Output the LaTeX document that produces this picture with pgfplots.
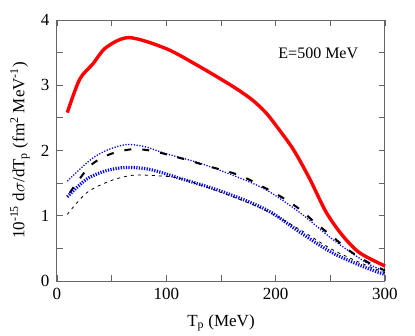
\documentclass[border=0pt]{standalone}
\usepackage{pgfplots}
\pgfplotsset{compat=1.18}
\usepackage{fontspec}
\setmainfont{Liberation Serif}

\begin{document}
\begin{tikzpicture}
\begin{axis}[
    scale only axis,
    width=328pt, height=261pt,
    xmin=0, xmax=300, ymin=0, ymax=4,
    xtick={0,100,200,300}, ytick={0,1,2,3,4},
    minor xtick={50,150,250}, minor ytick={0.5,1.5,2.5,3.5},
    tick align=inside, ticks=both,
    major tick length=6pt, minor tick length=6pt,
    axis line style={draw=gray!80!black, line width=1pt},
    every tick/.style={gray!80!black, line width=0.8pt},
    tick label style={font=\rmfamily\fontsize{17}{20}\selectfont},
    xticklabel style={yshift=-4pt},
    yticklabel style={xshift=-4pt},
    /pgf/number format/assume math mode=true,
    xlabel style={at={(axis description cs:0.5,-0.161)}, anchor=center,
        font=\rmfamily\fontsize{17}{20}\selectfont},
    ylabel style={at={(axis description cs:-0.113,0.5)}, anchor=center, rotate=0,
        font=\rmfamily\fontsize{17}{20}\selectfont},
    xlabel={T\textsubscript{p} (MeV)},
    ylabel={10\textsuperscript{-15} d$\sigma$/dT\textsubscript{p} (fm\textsuperscript{2} MeV\textsuperscript{-1})},
    clip=false,
]
% red: full result
\addplot[red, line width=3.4pt, smooth] coordinates {
 (9.4,2.58) (20.7,3.09) (32.9,3.33) (45,3.58) (66,3.73) (100,3.56) (130,3.29)
 (161,2.98) (179,2.77) (191,2.58) (200,2.39) (216,2.02) (231,1.57) (246,1.06)
 (261,0.70) (277,0.43) (300,0.23)};
% blue thin dotted
\addplot[blue, line width=1.3pt, dash pattern=on 1.2pt off 1.6pt, smooth] coordinates {
 (9.4,1.53) (30,1.85) (45,2.00) (63,2.09) (80,2.06) (100,1.95) (130,1.81) (161,1.62)
 (191,1.40) (222,1.05) (252,0.64) (283,0.28) (300,0.15)};
% black thick dashed
\addplot[black, line width=2pt, dash pattern=on 7pt off 11pt, smooth] coordinates {
 (11.6,1.35) (30,1.76) (48,1.94) (69,2.02) (88,1.99) (118,1.86) (136,1.77) (167,1.62)
 (191,1.42) (206,1.28) (222,1.10) (237,0.88) (252,0.68) (267,0.47) (283,0.30) (300,0.16)};
% blue thick dotted
\addplot[blue, line width=3.2pt, dash pattern=on 1.2pt off 1.4pt, smooth] coordinates {
 (9.4,1.29) (27,1.56) (45,1.69) (63,1.74) (85,1.71) (115,1.56) (146,1.40) (176,1.21)
 (197,1.04) (222,0.75) (252,0.43) (283,0.20) (300,0.10)};
% black thin dashed
\addplot[black, line width=0.8pt, dash pattern=on 3pt off 4pt, smooth] coordinates {
 (9.4,1.02) (27,1.35) (48,1.53) (69,1.62) (94,1.61) (115,1.56) (161,1.29)
 (191,1.08) (222,0.79) (252,0.48) (283,0.24) (300,0.13)};
\node[font=\rmfamily\fontsize{16}{19}\selectfont] at (axis cs:239,3.49) {E=500 MeV};
\end{axis}
\path (current axis.south west) ++(-57pt,-54pt) coordinate (bl);
\path (current axis.south west) ++(358pt,281pt) coordinate (tr);
\path (bl) rectangle (tr);
\end{tikzpicture}
\end{document}
